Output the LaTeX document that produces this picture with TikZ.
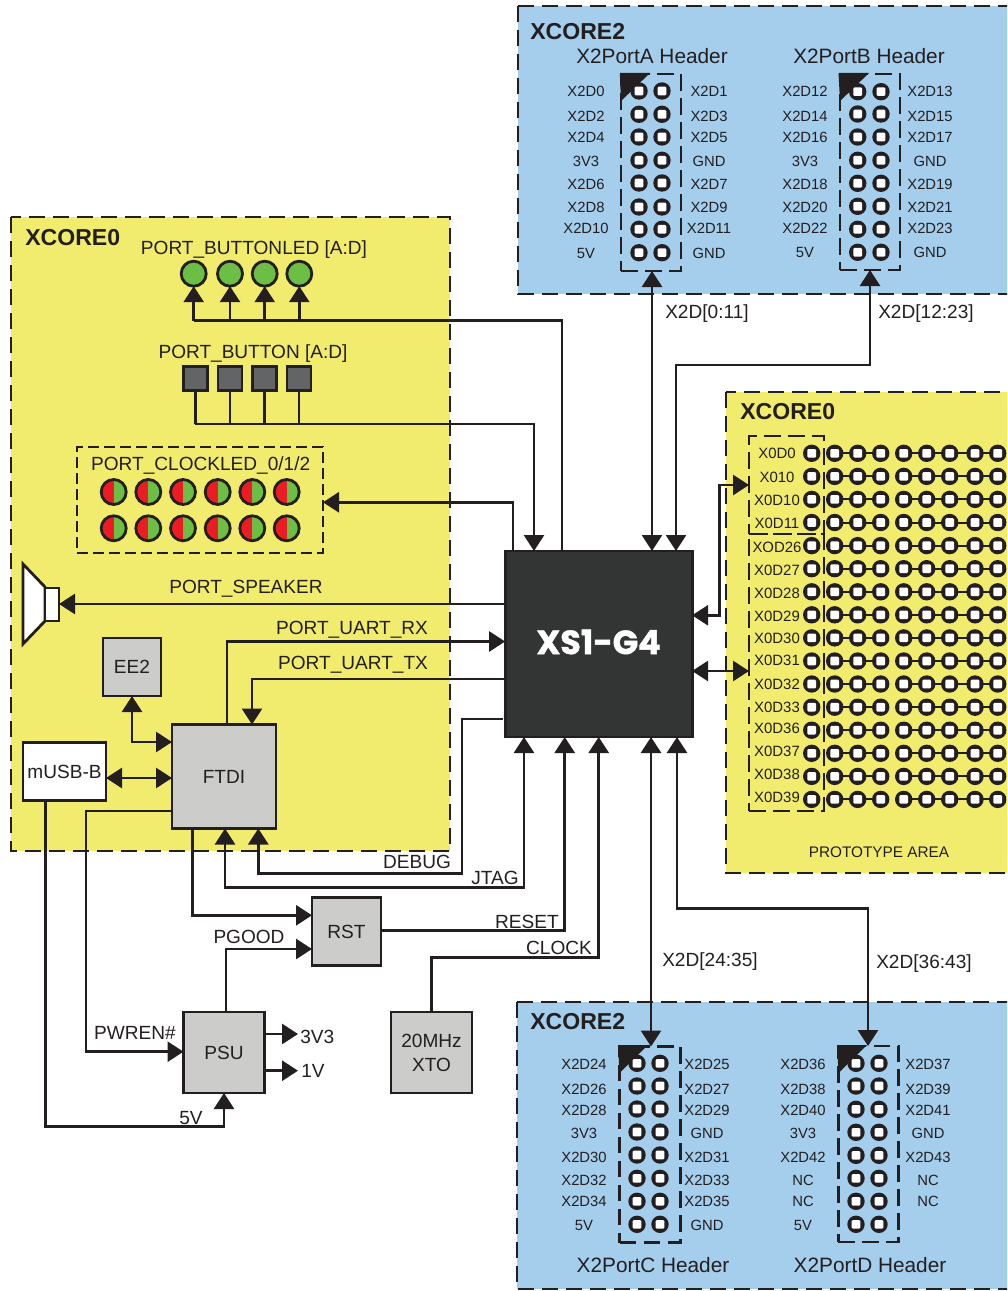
\documentclass[tikz,border=0pt]{standalone}
\usepackage{fontspec}
\setmainfont{Liberation Sans}
\newfontfamily\chipfont{Poppins}[BoldFeatures={FakeBold=1.5}]
\usepackage{tikz}
\usetikzlibrary{arrows.meta}

\definecolor{ink}{HTML}{231F20}
\definecolor{coreyellow}{HTML}{F2EC6E}
\definecolor{coreblue}{HTML}{A5CDEC}
\definecolor{boxgrey}{HTML}{CCCCCB}
\definecolor{btngrey}{HTML}{636466}
\definecolor{chipgrey}{HTML}{323534}
\definecolor{ledgreen}{HTML}{6CBE45}
\definecolor{ledred}{HTML}{ED1C24}

\newcommand{\pxu}{0.75pt}
\newcommand{\pinhole}[2]{%
  \fill[ink] (#1,#2) circle (8.7);
  \fill[white, rounded corners=0.8pt] (#1-4.3,#2-4.3) rectangle (#1+4.3,#2+4.3);
}

\tikzset{
  panel/.style={draw=ink, line width=2.2pt, dash pattern=on 12pt off 6pt},
  hdrbox/.style={draw=ink, line width=2.1pt, dash pattern=on 12.5pt off 5.5pt, inner sep=0, outer sep=0},
  sig/.style={draw=ink, line width=2.1pt},
  box/.style={draw=ink, line width=2.1pt, fill=boxgrey, text=ink, inner sep=0, outer sep=0, align=center, font=\fontsize{14.3}{17}\selectfont},
  lbl/.style={text=ink, inner sep=0, font=\fontsize{14.3}{17}\selectfont},
  pinlbl/.style={text=ink, inner sep=0, font=\fontsize{11.1}{12}\selectfont},
  protolbl/.style={text=ink, inner sep=0, font=\fontsize{11.2}{13}\selectfont},
  hdrlbl/.style={text=ink, inner sep=0, font=\fontsize{15.6}{18}\selectfont},
  corelbl/.style={text=ink, inner sep=0, anchor=west, font=\fontsize{17.3}{20}\selectfont\bfseries},
  greenled/.style={circle, draw=ink, line width=2.1pt, fill=ledgreen, minimum size=25*\pxu, inner sep=0, outer sep=0},
  clockled/.style={greenled, path picture={\fill[ledred] (path picture bounding box.north west) rectangle (path picture bounding box.south);}},
  btn/.style={draw=ink, line width=2.1pt, fill=btngrey, minimum size=24*\pxu, inner sep=0, outer sep=0}
}

\begin{document}
\begin{tikzpicture}[x=\pxu, y=-\pxu, >={Triangle[length=12pt,width=15pt]}]
  \clip (0,0) rectangle (1007,1291);
  \useasboundingbox (0,0) rectangle (1007,1291);

  % panels
  \draw[panel, fill=coreblue] (518,6) rectangle (1030,294);
  \draw[panel, fill=coreblue] (517,1002) rectangle (1030,1289);
  \draw[panel, fill=coreyellow] (11,217) rectangle (450,851);
  \draw[panel, fill=coreyellow] (726,392) rectangle (1030,873);
  \node[corelbl] (coreA) at (530,32) {XCORE2};
  \node[corelbl] (coreB) at (530,1022) {XCORE2};
  \node[corelbl] (coreC) at (25,238) {XCORE0};
  \node[corelbl] (coreD) at (740,412) {XCORE0};

  % chip and boxes
  \node[draw=ink, line width=2.1pt, fill=chipgrey, minimum width=187*\pxu, minimum height=186*\pxu, inner sep=0, outer sep=0] (chip) at (598.6,644) {};
  \node[text=white, inner sep=0, font=\fontsize{25}{28}\selectfont\chipfont\bfseries] (chiptxt) at (598.6,642) {XS1-G4};
  \node[box, minimum size=104*\pxu] (ftdi) at (224,776.5) {FTDI};
  \node[box, minimum size=58*\pxu] (ee2) at (132,667) {EE2};
  \node[box, fill=white, minimum width=83*\pxu, minimum height=58*\pxu] (musb) at (64.5,771.5) {mUSB-B};
  \node[box, minimum size=81*\pxu] (psu) at (224,1052.5) {PSU};
  \node[box, minimum width=69*\pxu, minimum height=68*\pxu] (rst) at (346.5,931.5) {RST};
  \node[box, minimum width=81*\pxu, minimum height=81*\pxu, font=\fontsize{14.3}{18}\selectfont] (xto) at (431.5,1052.5) {20MHz\\XTO};

  % speaker
  \draw[sig, fill=white] (23,564) -- (45,587) -- (45,621) -- (23,644) -- cycle;
  \node[draw=ink, line width=2.1pt, fill=white, minimum width=14*\pxu, minimum height=33*\pxu, inner sep=0, outer sep=0] (spk) at (52,604.5) {};

  % button leds and buttons
  \foreach \i/\ledx in {1/193.7, 2/230, 3/264.7, 4/299.3}
    \node[greenled] (led\i) at (\ledx,273.7) {};
  \foreach \i/\btnx in {1/195.3, 2/230, 3/264.7, 4/299}
    \node[btn] (btn\i) at (\btnx,378.7) {};
  \node[lbl] (ledlbl) at (254,250) {PORT\_BUTTONLED [A:D]};
  \node[lbl] (btnlbl) at (253,354) {PORT\_BUTTON [A:D]};

  \foreach \i in {1,2,3,4}
    \draw[sig,->] (led\i.south |- 0,320.5) -- (led\i.south);
  \foreach \i in {1,2,3,4}
    \draw[sig] (btn\i.south) -- (btn\i.south |- 0,424);
  \draw[sig] (chip.north -| 562,0) |- (led1.south |- 0,320.5);
  \draw[sig,->] (btn1.south |- 0,424) -| (chip.north -| 534,0);

  % clock leds
  \node[hdrbox, dash pattern=on 8.5pt off 3.5pt, minimum width=246*\pxu, minimum height=106*\pxu] (clkbox) at (200,500) {};
  \node[lbl] (clklbl) at (200.7,465) {PORT\_CLOCKLED\_0/1/2};
  \foreach \i/\ledx in {1/113.7, 2/148.3, 3/183, 4/217.7, 5/252.3, 6/286.7} {
    \node[clockled] (cla\i) at (\ledx,492) {};
    \node[clockled] (clb\i) at (\ledx,528.3) {};
  }
  \draw[sig,->] (chip.north -| 513,0) -- (513,502.3) -- (clkbox.east |- 0,502.3);

  % signals on the left of the chip
  \draw[sig,->] (chip.west |- 0,604) -- (spk.east |- 0,604);
  \node[lbl] (spklbl) at (246,589) {PORT\_SPEAKER};
  \draw[sig,->] (ftdi.north -| 227,0) |- (chip.west |- 0,641.5);
  \node[lbl] (rxlbl) at (352,630) {PORT\_UART\_RX};
  \draw[sig,->] (chip.west |- 0,679) -| (ftdi.north -| 252,0);
  \node[lbl] (txlbl) at (353,665) {PORT\_UART\_TX};

  \draw[sig,<->] (ee2.south) |- (ftdi.west |- 0,742);
  \draw[sig,<->] (musb.east |- 0,778) -- (ftdi.west |- 0,778);
  \draw[sig,->] (musb.south -| 45.7,0) |- (224,1126.7) -- (psu.south);
  \node[lbl] (fivelbl) at (191,1118) {5V};
  \draw[sig,->] (ftdi.west |- 0,811) -| (86,1051.7) -- (psu.west |- 0,1051.7);
  \node[lbl] (pwrlbl) at (135,1033) {PWREN\#};
  \draw[sig,->] (ftdi.south -| 192.7,0) |- (rst.west |- 0,915.3);
  \draw[sig,->] (psu.north -| 226,0) |- (rst.west |- 0,949);
  \node[lbl] (pgdlbl) at (249,937) {PGOOD};
  \draw[sig,->] (psu.east |- 0,1034) -- (298,1034);
  \draw[sig,->] (psu.east |- 0,1070.7) -- (298,1070.7);
  \node[lbl, anchor=west] (v33lbl) at (300,1037) {3V3};
  \node[lbl, anchor=west] (v1lbl) at (301,1071) {1V};

  % signals under the chip
  \draw[sig,->] (502.7,719) -- (462,719) -- (462,873.3) -| (ftdi.south -| 258.3,0);
  \node[lbl] (dbglbl) at (417,862) {DEBUG};
  \draw[sig,<->] (ftdi.south -| 225,0) |- (524,887.3) -- (chip.south -| 524,0);
  \node[lbl] (jtglbl) at (495,878) {JTAG};
  \draw[sig,->] (rst.east |- 0,930.7) -| (chip.south -| 564.7,0);
  \node[lbl] (rstlbl) at (527,922) {RESET};
  \draw[sig,->] (xto.north) |- (598.7,957.7) -- (chip.south -| 598.7,0);
  \node[lbl] (clocklbl) at (559,948) {CLOCK};

  % headers
  \node[hdrbox, minimum width=60*\pxu, minimum height=197*\pxu] (hdrA) at (651,172.5) {};
  \node[hdrbox, minimum width=60*\pxu, minimum height=196*\pxu] (hdrB) at (870,172) {};
  \node[hdrbox, minimum width=61*\pxu, minimum height=196*\pxu] (hdrC) at (650,1144.5) {};
  \node[hdrbox, minimum width=60*\pxu, minimum height=196*\pxu] (hdrD) at (868.3,1144) {};
  \fill[ink] (619.8,73) -- (650,73) -- (621,101) -- cycle;
  \fill[ink] (838.5,73) -- (869,73) -- (840,101) -- cycle;
  \fill[ink] (618,1045) -- (648,1045) -- (619.5,1073) -- cycle;
  \fill[ink] (837,1045) -- (867,1045) -- (838.5,1073) -- cycle;

  \node[hdrlbl] (hdrAlbl) at (652,56) {X2PortA Header};
  \node[hdrlbl] (hdrBlbl) at (869,56) {X2PortB Header};
  \node[hdrlbl] (hdrClbl) at (653,1265) {X2PortC Header};
  \node[hdrlbl] (hdrDlbl) at (870,1265) {X2PortD Header};

  \foreach \i/\piny/\txty/\ltxt/\rtxt in {1/91/91.5/X2D0/X2D1, 2/114.3/116.5/X2D2/X2D3, 3/137/137.5/X2D4/X2D5, 4/160.3/161.5/3V3/GND, 5/183/184.5/X2D6/X2D7, 6/207/207.5/X2D8/X2D9, 7/229.3/228.5/X2D10/X2D11, 8/252.7/253.5/5V/GND} {
    \pinhole{639}{\piny}
    \pinhole{662}{\piny}
    \node[pinlbl] (al\i) at (586,\txty) {\ltxt};
    \node[pinlbl] (ar\i) at (709,\txty) {\rtxt};
  }
  \foreach \i/\piny/\txty/\ltxt/\rtxt in {1/91.7/91.5/X2D12/X2D13, 2/114/116.5/X2D14/X2D15, 3/137/137.5/X2D16/X2D17, 4/160.3/161.5/3V3/GND, 5/183.3/184.5/X2D18/X2D19, 6/206.3/207.5/X2D20/X2D21, 7/229.3/228.5/X2D22/X2D23, 8/252.3/252.5/5V/GND} {
    \pinhole{857.7}{\piny}
    \pinhole{881}{\piny}
    \node[pinlbl] (bl\i) at (805,\txty) {\ltxt};
    \node[pinlbl] (br\i) at (930,\txty) {\rtxt};
  }
  \foreach \i/\piny/\txty/\ltxt/\rtxt in {1/1063.3/1064.5/X2D24/X2D25, 2/1086/1089.5/X2D26/X2D27, 3/1109/1110.5/X2D28/X2D29, 4/1132/1133.5/3V3/GND, 5/1155/1157.5/X2D30/X2D31, 6/1178.3/1180.5/X2D32/X2D33, 7/1201.3/1201.5/X2D34/X2D35, 8/1224.3/1225.5/5V/GND} {
    \pinhole{637}{\piny}
    \pinhole{660}{\piny}
    \node[pinlbl] (cl\i) at (584,\txty) {\ltxt};
    \node[pinlbl] (cr\i) at (707,\txty) {\rtxt};
  }
  \foreach \i/\piny/\txty/\ltxt/\rtxt in {1/1063.3/1064.5/X2D36/X2D37, 2/1086/1089.5/X2D38/X2D39, 3/1109.3/1110.5/X2D40/X2D41, 4/1132.3/1133.5/3V3/GND, 5/1155.3/1157.5/X2D42/X2D43, 6/1178.3/1180.5/NC/NC, 7/1201.3/1201.5/NC/NC, 8/1224.3/1225.5/5V/{}} {
    \pinhole{856}{\piny}
    \pinhole{879}{\piny}
    \node[pinlbl] (dl\i) at (803,\txty) {\ltxt};
    \node[pinlbl] (dr\i) at (928,\txty) {\rtxt};
  }

  % header links
  \draw[sig,<->] (hdrA.south -| 652,0) -- (chip.north -| 652,0);
  \draw[sig,<->] (hdrB.south) |- (676,365) -- (chip.north -| 676,0);
  \draw[sig,<->] (chip.south -| 651,0) -- (hdrC.north -| 651,0);
  \draw[sig,<->] (chip.south -| 677,0) |- (868,908.3) -- (hdrD.north -| 868,0);
  \node[lbl, anchor=west] (linkA) at (665,314) {X2D[0:11]};
  \node[lbl, anchor=west] (linkB) at (878,314) {X2D[12:23]};
  \node[lbl, anchor=west] (linkC) at (662,962) {X2D[24:35]};
  \node[lbl, anchor=west] (linkD) at (876,964) {X2D[36:43]};

  % prototype area
  \node[hdrbox, minimum width=75*\pxu, minimum height=98*\pxu] (protoA) at (786.5,485) {};
  \node[hdrbox, minimum width=75*\pxu, minimum height=277*\pxu] (protoB) at (786.5,672.5) {};
  \foreach \i/\rowy/\txty/\txt in {1/453.3/453/X0D0, 2/476.4/477/X010, 3/499.4/500/X0D10, 4/522.5/523/X0D11, 5/545.6/547/XOD26, 6/568.7/570/X0D27, 7/591.8/593/X0D28, 8/614.8/616/X0D29, 9/637.9/638/X0D30, 10/661/660/X0D31, 11/684/684/X0D32, 12/707.2/707/X0D33, 13/730.2/728/X0D36, 14/753.3/751/X0D37, 15/776.4/774/X0D38, 16/799.4/797/X0D39} {
    \node[protolbl] (pr\i) at (777,\txty) {\txt};
    \draw[ink, line width=1.5pt] (834.7,\rowy) -- (880.7,\rowy);
    \draw[ink, line width=1.5pt] (903.7,\rowy) -- (997.7,\rowy);
    \foreach \colx in {811.7, 834.7, 857.7, 880.7, 903.7, 926.7, 949.7, 975, 997.7} {
      \pinhole{\colx}{\rowy}
    }
  }
  \node[text=ink, inner sep=0, font=\fontsize{11.5}{14}\selectfont] (protolbl) at (879,852) {PROTOTYPE AREA};

  \draw[sig,<->] (chip.east |- 0,615.3) -| (719.3,485) -- (protoA.west |- 0,485);
  \draw[sig,<->] (chip.east |- 0,671) -- (protoB.west |- 0,671);
\end{tikzpicture}
\end{document}
